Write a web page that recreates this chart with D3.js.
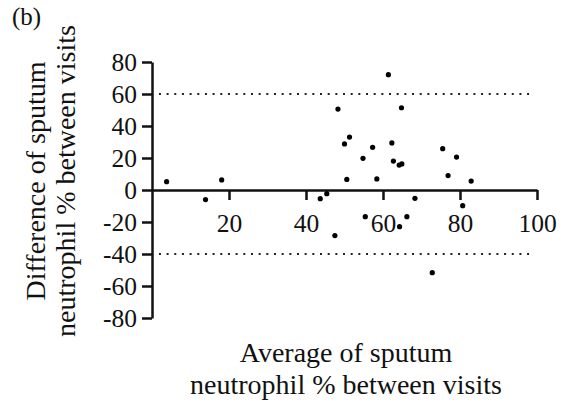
<!DOCTYPE html>
<html>
<head>
<meta charset="utf-8">
<script src="https://cdn.jsdelivr.net/npm/d3@7"></script>
<style>
  body { margin: 0; background: #fff; }
  svg text { font-family: "Liberation Serif", Tinos, "Times New Roman", Times, "DejaVu Serif", serif !important; fill: #111; }
</style>
</head>
<body>
<div id="chart"></div>
<script>
// ---- data (Bland-Altman style) ----
var avgNeut = [3.8, 13.9, 18.1, 43.7, 45.4, 47.5, 48.3, 50.0, 51.3, 50.6,
               54.8, 55.4, 57.3, 58.4, 61.4, 62.3, 62.7, 64.2, 64.9, 64.8,
               64.3, 66.2, 68.3, 72.8, 75.5, 76.9, 79.1, 80.7, 82.9];
var diffNeut = [5.2, -6.0, 6.3, -5.4, -2.3, -28.5, 50.6, 28.8, 33.1, 6.6,
                19.8, -16.7, 26.7, 6.9, 72.1, 29.4, 18.1, 15.6, 16.3, 51.4,
                -22.9, -16.7, -5.2, -51.7, 25.8, 9.0, 20.6, -9.8, 5.6];
var limitLines = [60, -40];
var limitExtent = [1.8, 98.4];
var xTicks = [20, 40, 60, 80, 100];
var yTicks = [-80, -60, -40, -20, 0, 20, 40, 60, 80];

var svgWidth = 568;
var svgHeight = 410;

var margin = { top: 62, left: 152 };
var width = 385;
var height = 256;

var svg = d3.select("#chart")
  .append("svg")
  .attr("width", svgWidth)
  .attr("height", svgHeight);

var chartGroup = svg.append("g")
  .attr("transform", `translate(${margin.left}, ${margin.top})`);

var xScale = d3.scaleLinear().domain([0, 100]).range([0, width]);
var yScale = d3.scaleLinear().domain([-80, 80]).range([height, 0]);

// dotted limit lines
chartGroup.selectAll(".limit")
  .data(limitLines)
  .enter()
  .append("line")
  .attr("class", "limit")
  .attr("x1", xScale(limitExtent[0]))
  .attr("x2", xScale(limitExtent[1]))
  .attr("y1", d => yScale(d))
  .attr("y2", d => yScale(d))
  .attr("stroke", "#222")
  .attr("stroke-width", 2)
  .attr("stroke-dasharray", "2,5.67");

// y axis
var leftAxis = d3.axisLeft(yScale)
  .tickValues(yTicks)
  .tickSize(10)
  .tickSizeOuter(0)
  .tickPadding(5)
  .tickFormat(d3.format("d"));

var yAxis = chartGroup.append("g").call(leftAxis);

// x axis sits on zero
var bottomAxis = d3.axisBottom(xScale)
  .tickValues(xTicks)
  .tickSize(10)
  .tickSizeOuter(0)
  .tickPadding(14);

var xAxis = chartGroup.append("g")
  .attr("transform", `translate(0, ${yScale(0)})`)
  .call(bottomAxis);

[xAxis, yAxis].forEach(function(ax) {
  ax.attr("font-family", null);
  ax.selectAll("path, line")
    .attr("stroke", "#111")
    .attr("stroke-width", 2.5);
  ax.selectAll("text")
    .style("font-size", "25.5px")
    .attr("fill", "#111");
});
yAxis.selectAll("text").text(d => d < 0 ? "-" + Math.abs(d) : d);

// points
chartGroup.selectAll("circle")
  .data(avgNeut)
  .enter()
  .append("circle")
  .attr("cx", d => xScale(d))
  .attr("cy", (d, i) => yScale(diffNeut[i]))
  .attr("r", 2.6)
  .attr("fill", "#000");

// x axis title
var xTitle = svg.append("text")
  .attr("text-anchor", "middle")
  .style("font-size", "28px");
xTitle.append("tspan").attr("x", 346).attr("y", 362).text("Average of sputum");
xTitle.append("tspan").attr("x", 346).attr("y", 394).text("neutrophil % between visits");

// y axis title
var yTitle = svg.append("text")
  .attr("text-anchor", "middle")
  .attr("transform", "rotate(-90)")
  .style("font-size", "28px");
yTitle.append("tspan").attr("x", -181).attr("y", 45).text("Difference of sputum");
yTitle.append("tspan").attr("x", -181).attr("y", 75).text("neutrophil % between visits");

// panel label
svg.append("text")
  .attr("x", 12)
  .attr("y", 25)
  .style("font-size", "25px")
  .text("(b)");
</script>
</body>
</html>
